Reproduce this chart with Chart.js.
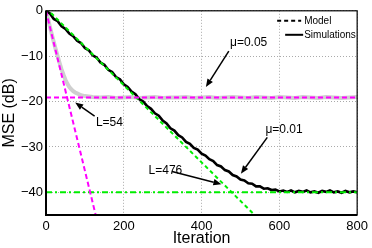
<!DOCTYPE html>
<html>
<head>
<meta charset="utf-8">
<script src="https://cdn.jsdelivr.net/npm/chart.js@4.4.1/dist/chart.umd.min.js"></script>
<style>
html, body { margin: 0; padding: 0; background: #fff; }
</style>
</head>
<body>
<canvas id="c" width="372" height="248"></canvas>
<script>
// MSE learning curves: model asymptotes vs simulations

const xTicks = [0, 200, 400, 600, 800];
const yTicks = [0, -10, -20, -30, -40];

// simulation, mu = 0.01 (black)
const simSlowIters = [0, 10, 20, 30, 40, 50, 60, 70, 80, 90, 100, 110, 120, 130, 140, 150, 160, 170, 180, 190,
    200, 210, 220, 230, 240, 250, 260, 270, 280, 290, 300, 310, 320, 330, 340, 350, 360, 370, 380, 390,
    400, 410, 420, 430, 440, 450, 460, 470, 480, 490, 500, 510, 520, 530, 540, 550, 560, 570, 580, 590,
    600, 610, 620, 630, 640, 650, 660, 670, 680, 690, 700, 710, 720, 730, 740, 750, 760, 770, 780, 790, 800];
const simSlowMse = [0, -0.6, -1.8, -2.3, -3.4, -4.0, -5.0, -5.6, -6.6, -7.1, -8.2, -8.7, -9.8, -10.3, -11.4, -11.9, -13.0, -13.5, -14.6, -15.1,
    -16.2, -16.8, -17.8, -18.4, -19.5, -20.0, -21.0, -21.6, -22.6, -23.1, -24.2, -24.8, -25.9, -26.4, -27.4, -27.9, -28.9, -29.3, -30.2, -30.6,
    -31.5, -31.9, -32.7, -33.1, -34.0, -34.3, -35.1, -35.4, -36.2, -36.5, -37.2, -37.4, -38.0, -38.1, -38.7, -38.7, -39.2, -39.1, -39.5, -39.4,
    -39.8, -39.6, -39.9, -39.6, -40.0, -39.7, -39.9, -39.6, -40.0, -39.8, -40.1, -39.7, -39.9, -39.6, -40.0, -39.8, -40.1, -39.7, -40.0, -39.8, -40.0];

// simulation, mu = 0.05 (gray)
const simFastIters = [0, 5, 10, 15, 20, 25, 30, 35, 40, 45, 50, 55, 60, 65, 70, 75, 80, 90, 100, 110, 120,
    140, 160, 180, 200, 220, 240, 260, 280, 300, 320, 340, 360, 380, 400, 420, 440, 460, 480, 500,
    520, 540, 560, 580, 600, 620, 640, 660, 680, 700, 720, 740, 760, 780, 800];
const simFastMse = [0, -1.7, -3.5, -5.2, -6.9, -8.5, -10.0, -11.5, -12.9, -14.1, -15.2, -16.1, -16.8, -17.3, -17.7, -18.0, -18.2, -18.6, -18.8, -18.9, -19.0,
    -19.1, -19.0, -19.2, -19.1, -19.0, -19.2, -19.1, -19.0, -19.2, -19.1, -19.1, -19.0, -19.2, -19.1, -19.0, -19.2, -19.1, -19.0, -19.1,
    -19.2, -19.0, -19.1, -19.2, -19.0, -19.1, -19.2, -19.0, -19.1, -19.2, -19.0, -19.1, -19.2, -19.1, -19.0];

// model asymptotes
const modelFastIters = [0, 130];
const modelFastMse = [0, -45.8];
const modelFastFloorIters = [0, 800];
const modelFastFloorMse = [-19.1, -19.1];
const modelSlowIters = [0, 540];
const modelSlowMse = [0.6, -45.3];
const modelSlowFloorIters = [0, 800];
const modelSlowFloorMse = [-40, -40];

// annotations (data coordinates)
const noteText = ['\u03bc=0.05', 'L=54', '\u03bc=0.01', 'L=476'];
const noteX = [521, 163, 612, 307];
const noteY = [-7.1, -24.6, -26.1, -35.2];
const arrowTailX = [470, 125, 569, 324];
const arrowTailY = [-8.9, -23.2, -27.9, -35.4];
const arrowTipX = [411, 75, 501, 451];
const arrowTipY = [-16.8, -20.2, -35.9, -38.2];

const legendLabels = ['Model', 'Simulations'];

const FONT = '"Liberation Sans", Arial, Helvetica, sans-serif';

function pts(xs, ys) {
    return xs.map((x, i) => ({ x: x, y: ys[i] }));
}

function drawArrow(ctx, x1, y1, x2, y2) {
    const ang = Math.atan2(y2 - y1, x2 - x1);
    const len = 8, half = 3.2;
    const bx = x2 - len * Math.cos(ang), by = y2 - len * Math.sin(ang);
    ctx.beginPath();
    ctx.moveTo(x1, y1);
    ctx.lineTo(bx, by);
    ctx.stroke();
    ctx.beginPath();
    ctx.moveTo(x2, y2);
    ctx.lineTo(bx + half * Math.sin(ang), by - half * Math.cos(ang));
    ctx.lineTo(bx - half * Math.sin(ang), by + half * Math.cos(ang));
    ctx.closePath();
    ctx.fill();
}

const decor = {
    id: 'decor',
    afterDatasetsDraw(chart) {
        const ctx = chart.ctx;
        const xs = chart.scales.x, ys = chart.scales.y;
        const a = chart.chartArea;
        ctx.save();
        ctx.setLineDash([]);
        // axes box
        ctx.strokeStyle = '#000';
        ctx.lineWidth = 1.2;
        ctx.strokeRect(a.left, a.top, a.right - a.left, a.bottom - a.top);
        ctx.lineWidth = 2;
        ctx.beginPath();
        ctx.moveTo(a.left, a.top);
        ctx.lineTo(a.left, a.bottom);
        ctx.lineTo(a.right, a.bottom);
        ctx.stroke();

        // notes + arrows
        ctx.fillStyle = '#000';
        ctx.font = '12px ' + FONT;
        ctx.textAlign = 'center';
        ctx.textBaseline = 'middle';
        noteText.forEach((t, i) => {
            ctx.fillText(t, xs.getPixelForValue(noteX[i]), ys.getPixelForValue(noteY[i]));
        });
        ctx.lineWidth = 1.5;
        arrowTailX.forEach((x, i) => {
            drawArrow(ctx, xs.getPixelForValue(x), ys.getPixelForValue(arrowTailY[i]),
                xs.getPixelForValue(arrowTipX[i]), ys.getPixelForValue(arrowTipY[i]));
        });

        // legend
        const lx = a.right - 53;
        ctx.font = '10px ' + FONT;
        ctx.textAlign = 'left';
        ctx.lineWidth = 2;
        ctx.setLineDash([4, 3]);
        ctx.beginPath();
        ctx.moveTo(a.right - 80, a.top + 10);
        ctx.lineTo(a.right - 56, a.top + 10);
        ctx.stroke();
        ctx.setLineDash([]);
        ctx.beginPath();
        ctx.moveTo(a.right - 72, a.top + 24);
        ctx.lineTo(a.right - 54, a.top + 24);
        ctx.stroke();
        ctx.fillText(legendLabels[0], lx, a.top + 10);
        ctx.fillText(legendLabels[1], lx, a.top + 24);
        ctx.restore();
    }
};

const lineDefaults = { pointRadius: 0, fill: false, tension: 0 };

new Chart(document.getElementById('c'), {
    type: 'line',
    data: {
        datasets: [
            Object.assign({ data: pts(modelFastIters, modelFastMse), borderColor: '#ff00ff', borderWidth: 2, borderDash: [5, 3] }, lineDefaults),
            Object.assign({ data: pts(modelFastFloorIters, modelFastFloorMse), borderColor: '#ff00ff', borderWidth: 2, borderDash: [5, 3] }, lineDefaults),
            Object.assign({ data: pts(modelSlowIters, modelSlowMse), borderColor: '#00ee00', borderWidth: 2, borderDash: [4, 3] }, lineDefaults),
            Object.assign({ data: pts(modelSlowFloorIters, modelSlowFloorMse), borderColor: '#00ee00', borderWidth: 2, borderDash: [6, 3, 2, 3] }, lineDefaults),
            Object.assign({ data: pts(simSlowIters, simSlowMse), borderColor: '#000', borderWidth: 2.6 }, lineDefaults),
            Object.assign({ data: pts(simFastIters, simFastMse), borderColor: '#cfcfcf', borderWidth: 4 }, lineDefaults)
        ]
    },
    options: {
        responsive: false,
        animation: false,
        events: [],
        layout: { padding: { top: 5, right: 11, left: 0, bottom: 0 } },
        plugins: { legend: { display: false }, tooltip: { enabled: false } },
        scales: {
            x: {
                type: 'linear',
                min: 0, max: 800,
                afterBuildTicks: s => { s.ticks = xTicks.map(v => ({ value: v })); },
                afterFit: s => { s.height = 33; },
                grid: { color: '#aaa', drawTicks: false, lineWidth: 1 },
                border: { display: false, dash: [1, 2] },
                ticks: { color: '#000', padding: 4, maxRotation: 0, font: { family: FONT, size: 13 } },
                title: { display: true, text: 'Iteration', color: '#000', padding: 0, font: { family: FONT, size: 16 } }
            },
            y: {
                type: 'linear',
                min: -45, max: 0,
                afterBuildTicks: s => { s.ticks = yTicks.map(v => ({ value: v })); },
                afterFit: s => { s.width = 46; },
                grid: { color: '#aaa', drawTicks: false, lineWidth: 1 },
                border: { display: false, dash: [1, 2] },
                ticks: {
                    color: '#000', padding: 3, font: { family: FONT, size: 13 },
                    callback: v => v < 0 ? '\u2212' + Math.abs(v) : String(v)
                },
                title: { display: true, text: 'MSE (dB)', color: '#000', padding: 0, font: { family: FONT, size: 16 } }
            }
        }
    },
    plugins: [decor]
});
</script>
</body>
</html>
